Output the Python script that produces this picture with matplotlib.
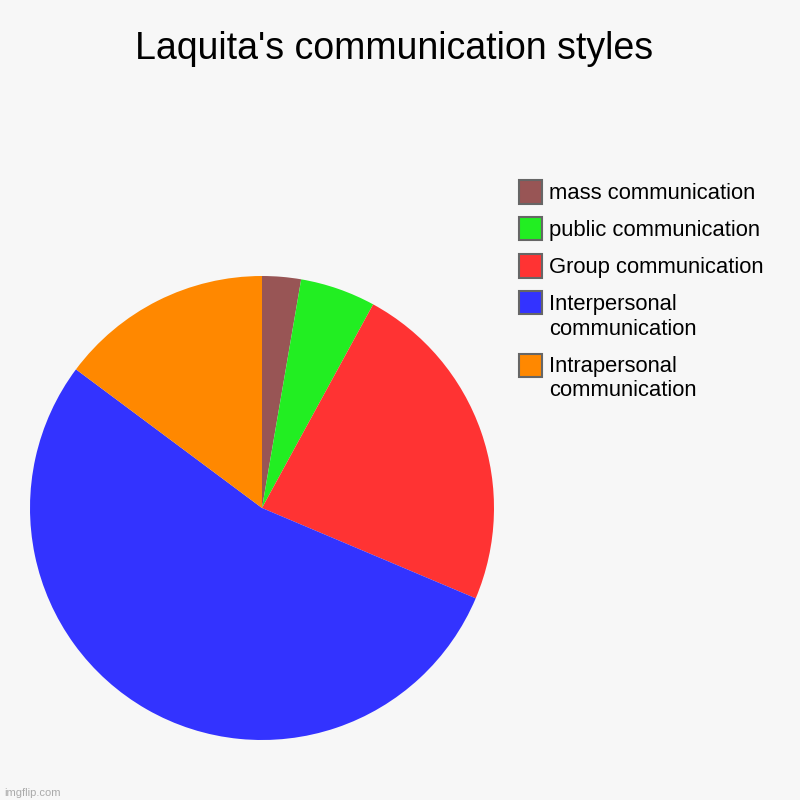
import matplotlib.pyplot as plt
from matplotlib.patches import Rectangle

# データ（画像から読み取った割合）
labels = ['mass communication', 'public communication', 'Group communication',
          'Interpersonal\ncommunication', 'Intrapersonal\ncommunication']
values = [2.7, 5.25, 23.4, 53.8, 14.8]
colors = ['#985555', '#22ee22', '#ff3333', '#3333ff', '#ff8800']

plt.rcParams['font.family'] = ['Liberation Sans', 'DejaVu Sans']
bg = '#f7f7f7'

fig = plt.figure(figsize=(8, 8), dpi=100, facecolor=bg)
W = H = 800.0

# 円グラフ: 中心 (262, 508), 半径 232 px
cx, cy, r = 262, 508, 232
ax = fig.add_axes([(cx - r) / W, 1 - (cy + r) / H, 2 * r / W, 2 * r / H])
ax.set_facecolor(bg)
ax.pie(values, colors=colors, startangle=90, counterclock=False,
       wedgeprops={'linewidth': 0})
ax.set_xlim(-1, 1)
ax.set_ylim(-1, 1)
ax.set_aspect('equal')
ax.axis('off')

fig.text(394 / W, 1 - 59 / H, "Laquita's communication styles",
         ha='center', va='baseline', fontsize=27, color='#000000')

# 凡例（手動配置）
y = 192
for lab, col in zip(labels, colors):
    fig.patches.append(Rectangle((519 / W, 1 - (y + 11.5) / H), 23 / W, 23 / H,
                                 transform=fig.transFigure, facecolor=col,
                                 edgecolor='#666666', linewidth=1.5))
    for k, line in enumerate(lab.split('\n')):
        fig.text(549 / W, 1 - (y + 7 + 24.5 * k) / H, line, ha='left',
                 va='baseline', fontsize=15.8, color='#000000')
    y += 37 + 25 * lab.count('\n')

fig.text(4 / W, 1 - 796 / H, 'imgflip.com', ha='left', va='baseline',
         fontsize=8, color='#aaaaaa')

fig.savefig('out.png', dpi=100, facecolor=bg)
